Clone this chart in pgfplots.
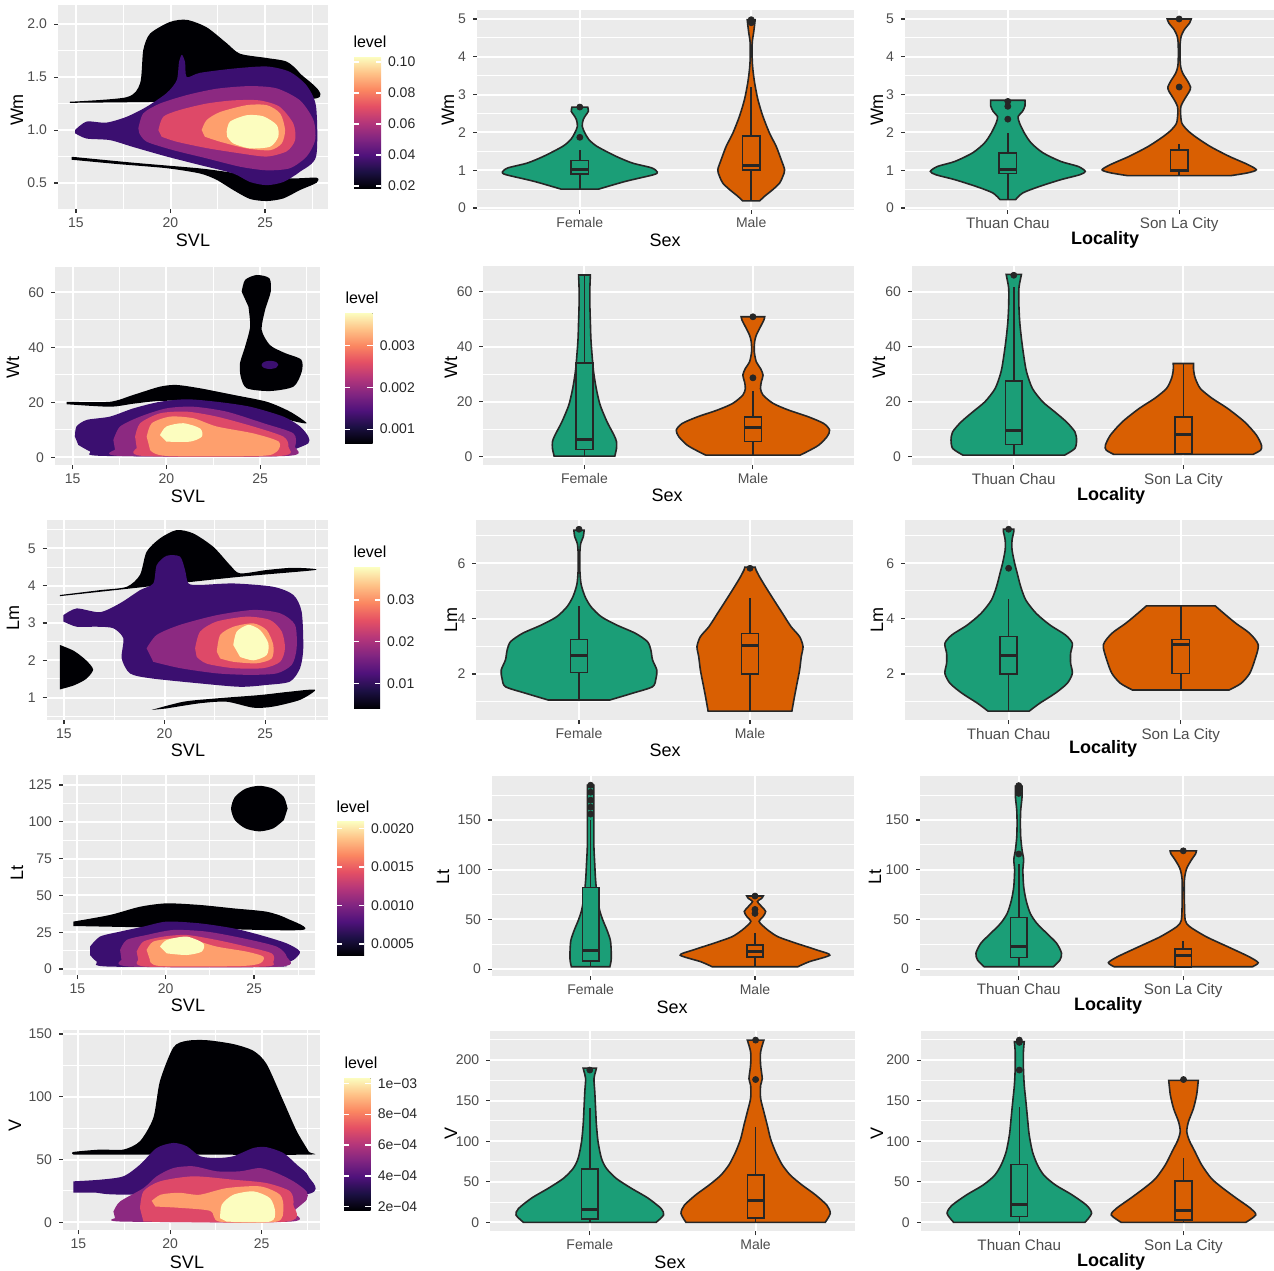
\documentclass[border=0pt]{standalone}
\usepackage{pgfplots}
\pgfplotsset{compat=1.18}
\usepackage{pgfplotstable}
\usepgfplotslibrary{fillbetween,statistics}
\usepackage{fontspec}
\setmainfont{Liberation Sans}

\definecolor{ggbg}{HTML}{EBEBEB}
\definecolor{tickc}{HTML}{333333}
\definecolor{tlab}{HTML}{4D4D4D}
\definecolor{vg}{HTML}{1B9E77}
\definecolor{vo}{HTML}{D95F02}
\definecolor{vl}{HTML}{262626}
\definecolor{lA}{HTML}{000004}
\definecolor{lB}{HTML}{3B0F70}
\definecolor{lC}{HTML}{8C2981}
\definecolor{lD}{HTML}{DE4968}
\definecolor{lE}{HTML}{FE9F6D}
\definecolor{lF}{HTML}{FCFDBF}
\definecolor{m1}{RGB}{28,16,68}
\definecolor{m2}{RGB}{79,18,123}
\definecolor{m3}{RGB}{129,37,129}
\definecolor{m4}{RGB}{181,54,122}
\definecolor{m5}{RGB}{229,80,100}
\definecolor{m6}{RGB}{251,135,97}
\definecolor{m7}{RGB}{254,194,135}
\pgfdeclareverticalshading{magmash}{100bp}{color(0bp)=(lA); color(25bp)=(lA); color(31.25bp)=(m1); color(37.5bp)=(m2); color(43.75bp)=(m3); color(50bp)=(m4); color(56.25bp)=(m5); color(62.5bp)=(m6); color(68.75bp)=(m7); color(75bp)=(lF); color(100bp)=(lF)}

\pgfplotsset{
 gg/.style={scale only axis, set layers, anchor=south west,
  axis background/.style={fill=ggbg},
  axis line style={draw=none},
  xmajorgrids, ymajorgrids, yminorgrids,
  major grid style={white, line width=1pt},
  minor grid style={white, line width=0.5pt},
  tick align=outside, major tick length=2pt, minor tick length=0pt,
  tick pos=left,
  major tick style={tickc, line width=0.55pt},
  tick label style={font=\fontsize{7}{8}\selectfont, text=tlab},
  /pgf/number format/assume math mode=true,
  scaled ticks=false},
 vio/.style={gg, xmin=0.4, xmax=2.6, xtick={1,2}, boxplot/draw direction=y, xticklabel style={yshift=1.5pt}},
 vioR/.style={vio, xticklabel style={font=\fontsize{7.6}{8.5}\selectfont}, xticklabels={Thuan Chau,Son La City}},
 dens/.style={gg, xtick={15,20,25}, minor xtick={17.5,22.5,27.5}, xminorgrids, xticklabel style={yshift=1pt}},
 cf/.style={fill=#1, draw=none, smooth, tension=0.45},
 cbar/.style={scale only axis, anchor=south west, xmin=0, xmax=1, xtick=\empty,
  axis line style={draw=none}, tick align=inside, yticklabel pos=right,
  major tick length=2.7pt, major tick style={white, line width=0.6pt},
  yticklabel style={font=\fontsize{7}{8}\selectfont, text=black!85},
  scaled y ticks=false, axis on top},
}

% ---------------- violin outlines (y, half width) ----------------
\pgfplotstableread{
y w
0.50 0.11
0.705 0.267
0.88 0.43
0.95 0.452
1.06 0.42
1.19 0.306
1.37 0.21
1.63 0.10
1.81 0.053
1.98 0.03
2.16 0.014
2.34 0.02
2.47 0.037
2.56 0.05
2.67 0.046
}\tWmF
\pgfplotstableread{
y w
0.19 0.05
0.31 0.078
0.49 0.127
0.66 0.166
0.84 0.185
1.01 0.195
1.28 0.175
1.63 0.146
1.98 0.107
2.43 0.068
2.87 0.039
3.31 0.02
3.66 0.01
3.92 0.006
4.37 0.006
4.63 0.014
4.85 0.02
4.98 0.023
}\tWmM
\pgfplotstableread{
y w
0.22 0.045
0.40 0.088
0.57 0.185
0.75 0.31
0.88 0.42
0.97 0.452
1.10 0.41
1.23 0.31
1.46 0.205
1.72 0.136
1.98 0.097
2.25 0.068
2.42 0.06
2.55 0.085
2.70 0.10
2.85 0.10
}\tWmT
\pgfplotstableread{
y w
0.855 0.30
0.93 0.40
1.01 0.45
1.15 0.40
1.37 0.29
1.63 0.18
1.90 0.09
2.07 0.045
2.25 0.015
2.51 0.008
2.69 0.01
2.87 0.03
3.09 0.06
3.20 0.066
3.35 0.05
3.57 0.02
3.75 0.008
4.02 0.005
4.37 0.006
4.55 0.012
4.72 0.03
4.89 0.06
5.00 0.07
}\tWmS
\pgfplotstableread{
y w
0.24 0.18
3.0 0.19
5.5 0.19
7.9 0.175
12.7 0.134
18.8 0.093
24.8 0.07
30.9 0.054
37 0.045
43 0.038
49 0.035
55.2 0.032
61.2 0.032
66.1 0.035
}\tWtF
\pgfplotstableread{
y w
0.6 0.28
1.8 0.32
4.2 0.39
7.3 0.44
9.7 0.455
12.1 0.42
14.5 0.33
17 0.21
19.4 0.12
22.4 0.06
24.8 0.045
27.3 0.05
29.7 0.06
32.1 0.045
34.5 0.02
38.2 0.008
41.8 0.01
44.2 0.02
47.3 0.045
49.7 0.065
50.9 0.07
}\tWtM
\pgfplotstableread{
y w
0.6 0.30
3.0 0.36
6.1 0.37
9.1 0.36
12.7 0.31
16.4 0.24
20 0.17
24.8 0.11
30.9 0.075
37 0.058
43 0.045
49 0.035
55.2 0.03
61.2 0.03
64.8 0.04
66.3 0.045
}\tWtT
\pgfplotstableread{
y w
0.85 0.41
2.4 0.455
4.2 0.46
7.9 0.43
12.7 0.36
17.6 0.26
21.2 0.17
24.8 0.10
28.5 0.07
31.5 0.06
33.9 0.06
}\tWtS
\pgfplotstableread{
y w
1.06 0.18
1.30 0.31
1.54 0.43
1.84 0.45
2.14 0.455
2.51 0.43
2.87 0.42
3.17 0.40
3.47 0.33
3.77 0.22
4.07 0.13
4.43 0.07
4.80 0.035
5.25 0.012
5.76 0.005
6.37 0.005
6.72 0.01
6.96 0.025
7.20 0.03
}\tLmF
\pgfplotstableread{
y w
0.66 0.245
1.18 0.26
1.66 0.275
2.14 0.29
2.63 0.30
2.99 0.31
3.35 0.29
3.71 0.24
4.19 0.19
4.67 0.14
5.16 0.09
5.52 0.055
5.76 0.035
5.86 0.03
}\tLmM
\pgfplotstableread{
y w
0.66 0.12
0.94 0.18
1.30 0.27
1.66 0.34
2.02 0.37
2.39 0.36
2.75 0.36
3.11 0.37
3.41 0.33
3.77 0.24
4.19 0.16
4.67 0.10
5.16 0.07
5.64 0.05
6.0 0.035
6.48 0.02
6.84 0.02
7.14 0.03
7.23 0.03
}\tLmT
\pgfplotstableread{
y w
1.42 0.28
1.66 0.35
2.02 0.40
2.51 0.43
3.05 0.45
3.47 0.40
3.83 0.32
4.19 0.25
4.46 0.20
}\tLmS
\pgfplotstableread{
y w
2.3 0.117
9 0.125
19 0.125
29 0.12
39 0.10
49 0.075
59 0.055
73 0.04
90 0.03
106 0.025
123 0.02
143 0.02
167 0.02
185 0.02
}\tLtF
\pgfplotstableread{
y w
2.3 0.26
7.4 0.33
14 0.455
19 0.38
26 0.25
32.5 0.14
39 0.08
44 0.045
48 0.025
53 0.05
58 0.065
63 0.04
68 0.015
71 0.04
73.5 0.05
}\tLtM
\pgfplotstableread{
y w
2.3 0.21
9 0.25
16 0.26
26 0.23
36 0.17
46 0.11
56 0.07
69 0.045
83 0.03
100 0.025
110 0.03
120 0.02
133 0.012
147 0.01
160 0.012
173 0.02
184 0.02
}\tLtT
\pgfplotstableread{
y w
2.3 0.42
6.4 0.455
12.4 0.40
22.5 0.27
32.5 0.14
42.6 0.04
49 0.012
66 0.007
89.6 0.007
101 0.02
110 0.05
116 0.075
119 0.08
}\tLtS
\pgfplotstableread{
y w
0 0.40
9 0.445
17 0.43
30 0.35
42 0.25
54 0.16
66.5 0.10
79 0.07
99 0.05
120 0.04
140 0.035
161 0.03
177 0.025
186 0.035
190 0.04
}\tVF
\pgfplotstableread{
y w
0 0.42
11 0.45
21 0.43
34 0.36
46 0.28
58 0.21
71 0.16
87 0.12
103 0.09
120 0.07
136 0.05
153 0.03
169 0.03
177 0.04
194 0.03
210 0.03
224.6 0.05
}\tVM
\pgfplotstableread{
y w
0 0.40
11 0.44
21 0.41
34 0.32
46 0.22
58 0.15
71 0.11
87 0.08
108 0.06
128 0.05
149 0.04
169 0.03
190 0.025
210 0.025
222.6 0.03
}\tVT
\pgfplotstableread{
y w
0 0.38
9 0.44
17 0.41
30 0.32
42 0.24
54 0.17
71 0.11
87 0.07
101 0.035
112 0.02
124 0.03
140 0.06
157 0.08
175 0.09
}\tVS

\newcommand\vio[4]{%
 \addplot[draw=none, smooth, tension=0.45, name path=R#4] table[x expr={#1+\thisrow{w}}, y=y] {#3};
 \addplot[draw=none, smooth, tension=0.45, name path=L#4] table[x expr={#1-\thisrow{w}}, y=y] {#3};
 \addplot[fill=#2, draw=vl, line width=0.8pt] fill between[of=R#4 and L#4, reverse=true];
}
\newcommand\bx[7]{%
 \addplot[fill=#2, draw=vl, line width=0.8pt, boxplot prepared={draw position=#1, lower whisker=#3, lower quartile=#4, median=#5, upper quartile=#6, upper whisker=#7, box extend=0.1, whisker extend=0, every median/.style={line width=1.5pt}}] coordinates {};
}
\newcommand\outl[1]{\addplot[only marks, mark=*, mark size=1.5pt, color=vl] coordinates {#1};}
\newcommand\cbar[6]{%
 \begin{axis}[cbar, at={(#1,#2)}, width=#3, height=#4, ymin=#5, ymax=#6, cbticks]
 \fill[shading=magmash] (axis cs:0,#5) rectangle (axis cs:1,#6);
 \end{axis}}

\begin{document}
\begin{tikzpicture}

% ================= ROW 1 =================
\begin{axis}[dens, at={(29pt,-104.5pt)}, width=135pt, height=102pt,
  xmin=14.05, xmax=28.33, ymin=0.255, ymax=2.18,
  ytick={0.5,1,1.5,2}, yticklabels={0.5,1.0,1.5,2.0}, minor ytick={0.75,1.25,1.75}]
\addplot[cf=lA] coordinates {(14.68,1.267) (17.68,1.31) (18.39,1.44) (18.56,1.755) (18.92,1.91) (19.97,2.02) (20.86,2.04) (21.91,1.97) (22.97,1.82) (23.68,1.72) (25.09,1.68) (26.15,1.645) (26.85,1.535) (27.73,1.30) (21,1.27) (14.68,1.257)};
\addplot[cf=lA] coordinates {(14.77,0.748) (18.03,0.692) (21.56,0.638) (23.32,0.597) (25.09,0.56) (26.5,0.544) (27.73,0.55) (27.73,0.503) (26.85,0.434) (25.97,0.355) (25.09,0.33) (24.2,0.35) (23.32,0.434) (22.44,0.53) (21.56,0.59) (19.8,0.64) (17.15,0.68) (14.77,0.72)};
\addplot[cf=lB] coordinates {(14.95,1.0) (15.56,1.08) (16.6,1.07) (17.68,1.125) (18.74,1.22) (19.8,1.35) (20.33,1.47) (20.45,1.64) (20.6,1.71) (20.77,1.64) (20.86,1.50) (21.56,1.54) (23.32,1.58) (25.09,1.60) (26.3,1.55) (27.2,1.42) (27.7,1.22) (27.7,0.75) (26.85,0.607) (25.97,0.51) (25.09,0.48) (24.2,0.51) (23.32,0.59) (21.56,0.67) (19.8,0.75) (18.03,0.84) (16.8,0.905) (15.56,0.92) (14.95,0.97)};
\addplot[cf=lC] coordinates {(18.3,1.016) (18.56,1.157) (19.44,1.25) (20.86,1.33) (22.44,1.39) (24.2,1.415) (25.62,1.393) (26.85,1.28) (27.56,1.094) (27.65,0.906) (27.2,0.75) (26.32,0.64) (25.09,0.62) (23.68,0.654) (21.91,0.733) (20.15,0.81) (18.74,0.89) (18.35,0.97)};
\addplot[cf=lD] coordinates {(19.36,1.0) (19.62,1.126) (20.5,1.19) (21.91,1.25) (23.32,1.28) (24.7,1.28) (25.77,1.22) (26.5,1.06) (26.59,0.906) (26.15,0.80) (25.09,0.75) (23.68,0.78) (21.91,0.83) (20.33,0.89) (19.53,0.937)};
\addplot[cf=lE] coordinates {(21.65,1.0) (21.91,1.094) (22.62,1.17) (24.03,1.235) (25.09,1.235) (25.8,1.157) (26.06,1.0) (25.88,0.874) (25.27,0.81) (24.03,0.827) (22.62,0.89) (21.82,0.937)};
\addplot[cf=lF] coordinates {(22.97,0.984) (23.15,1.08) (24.03,1.14) (24.9,1.13) (25.62,1.047) (25.7,0.937) (25.27,0.843) (24.2,0.827) (23.32,0.874) (23.0,0.937)};
\end{axis}
\pgfplotsset{cbticks/.style={ytick={0.02,0.04,0.06,0.08,0.1}, yticklabels={0.02,0.04,0.06,0.08,0.10}}}
\cbar{177pt}{-94pt}{13.5pt}{65.5pt}{0.0187}{0.1032}

\begin{axis}[vio, at={(238.5pt,-104.75pt)}, width=188.5pt, height=99.8pt,
  ymin=-0.04, ymax=5.24, ytick={0,1,2,3,4,5}, minor ytick={0.5,1.5,2.5,3.5,4.5},
  xticklabels={Female,Male}]
\vio{1}{vg}{\tWmF}{a}
\vio{2}{vo}{\tWmM}{b}
\bx{1}{vg}{0.50}{0.90}{1.03}{1.26}{1.54}
\bx{2}{vo}{0.19}{1.0}{1.12}{1.90}{3.2}
\outl{(1,1.87) (1,2.67)}
\outl{(2,4.9) (2,4.98)}
\end{axis}

\begin{axis}[vioR, at={(452.5pt,-104.75pt)}, width=188.5pt, height=99.8pt,
  ymin=-0.04, ymax=5.24, ytick={0,1,2,3,4,5}, minor ytick={0.5,1.5,2.5,3.5,4.5}]
\vio{1}{vg}{\tWmT}{c}
\vio{2}{vo}{\tWmS}{d}
\bx{1}{vg}{0.22}{0.91}{1.01}{1.46}{1.98}
\bx{2}{vo}{0.88}{0.97}{1.0}{1.54}{1.70}
\outl{(1,2.35) (1,2.69) (1,2.82)}
\outl{(2,3.2) (2,5.0)}
\end{axis}

% ================= ROW 2 =================
\begin{axis}[dens, at={(27.5pt,-232.5pt)}, width=132.5pt, height=99pt,
  xmin=14.055, xmax=28.2, ymin=-2.8, ymax=69.2,
  ytick={0,20,40,60}, minor ytick={10,30,50}]
\addplot[cf=lA] coordinates {(24.02,60.2) (24.2,64.5) (24.82,66.3) (25.5,65.1) (25.57,60.2) (25.27,53.6) (25.09,46.3) (25.53,40.8) (26.3,38) (27.2,35.5) (27.22,31) (26.78,25.7) (25.53,24.1) (24.29,25.1) (23.97,29.3) (23.93,34.2) (24.2,40.2) (24.47,47.5) (24.38,54.8)};
\addplot[cf=lB] coordinates {(25.98,33.6) (25.85,34.7) (25.53,35.1) (25.21,34.7) (25.08,33.6) (25.21,32.5) (25.53,32.1) (25.85,32.5)};
\addplot[cf=lA] coordinates {(14.68,20.2) (16.99,20.2) (18.24,22.7) (19.66,25.7) (20.55,26.3) (21.8,25.1) (23.58,22.7) (25.36,20.2) (26.6,16.6) (27.49,12.4) (26.6,13.5) (25.36,16.5) (23.58,19) (21.8,20.5) (19.66,20.5) (18.24,19.5) (16.99,18.4) (14.68,19.3)};
\addplot[cf=lB] coordinates {(15.12,7.5) (15.2,11.2) (15.75,13.6) (16.99,14.8) (18.24,17.8) (19.66,20.2) (21.09,21.1) (22.69,20.2) (24.47,18.4) (26.25,14.8) (27.14,11.2) (27.58,7.5) (27.58,5.1) (26.78,2.7) (26.07,0.5) (16.64,0.5) (15.93,2.1) (15.3,4.5)};
\addplot[cf=lC] coordinates {(17.17,6.3) (17.53,11.2) (18.6,14.8) (20.0,17.8) (21.44,18.4) (23.22,16.6) (25.18,12.4) (26.78,8.7) (26.87,3.9) (26.42,0.5) (17.53,0.5) (17.26,2.7)};
\addplot[cf=lD] coordinates {(18.33,7.5) (18.6,12.4) (19.66,16.0) (21.09,16.6) (22.69,14.8) (24.64,11.2) (26.25,7.5) (26.51,3.9) (26.07,0.5) (18.77,0.5) (18.42,3.3)};
\addplot[cf=lE] coordinates {(18.95,7.5) (19.22,12.4) (20.2,14.8) (21.44,14.2) (22.69,11.2) (24.64,8.7) (26.0,5.7) (25.9,2.1) (25.0,0.5) (20.0,0.5) (19.13,2.7)};
\addplot[cf=lF] coordinates {(19.66,8.1) (20.0,11.2) (20.9,12.4) (21.8,10.5) (21.89,7.5) (21.26,5.7) (20.0,5.7)};
\end{axis}
\pgfplotsset{cbticks/.style={ytick={0.001,0.002,0.003}, yticklabels={0.001,0.002,0.003}}}
\cbar{172.5pt}{-221.5pt}{13.85pt}{65pt}{0.00067}{0.00377}

\begin{axis}[vio, at={(241.7pt,-232.5pt)}, width=185.3pt, height=99.7pt,
  ymin=-3.0, ymax=69.5, ytick={0,20,40,60}, minor ytick={10,30,50},
  xticklabels={Female,Male}]
\vio{1}{vg}{\tWtF}{e}
\vio{2}{vo}{\tWtM}{f}
\bx{1}{vg}{0.24}{2.7}{6.4}{34}{66}
\bx{2}{vo}{0.6}{5.5}{10.5}{14.5}{23.9}
\outl{(2,28.7) (2,50.9)}
\end{axis}

\begin{axis}[vioR, at={(456pt,-232.5pt)}, width=186.6pt, height=99.7pt,
  ymin=-3.0, ymax=69.5, ytick={0,20,40,60}, minor ytick={10,30,50}]
\vio{1}{vg}{\tWtT}{g}
\vio{2}{vo}{\tWtS}{h}
\bx{1}{vg}{0.6}{4.5}{9.7}{27.5}{61.8}
\bx{2}{vo}{0.85}{1.2}{8.2}{14.5}{33.9}
\outl{(1,66)}
\end{axis}

% ================= ROW 3 =================
\begin{axis}[dens, at={(23.35pt,-360pt)}, width=140.65pt, height=100pt,
  xmin=14.14, xmax=28.13, ymin=0.40, ymax=5.76,
  ytick={1,2,3,4,5}, minor ytick={0.5,1.5,2.5,3.5,4.5,5.5}]
\addplot[cf=lA] coordinates {(14.8,3.75) (16.79,3.88) (18.12,3.97) (18.78,4.29) (19.11,4.91) (19.78,5.27) (20.6,5.49) (21.43,5.40) (22.43,5.04) (23.26,4.55) (23.76,4.33) (25.08,4.42) (26.41,4.48) (27.49,4.42) (23.4,4.22) (14.8,3.72)};
\addplot[cf=lA] coordinates {(14.8,2.41) (15.5,2.25) (16.1,2.0) (16.45,1.75) (16.1,1.5) (15.5,1.33) (14.8,1.22)};
\addplot[cf=lA] coordinates {(19.36,0.67) (20.94,0.89) (22.6,0.98) (24.75,1.07) (26.24,1.16) (27.49,1.21) (26.74,0.94) (25.41,0.76) (24.42,0.73) (23.09,0.89) (21.77,0.85) (20.1,0.71)};
\addplot[cf=lB] coordinates {(14.97,3.21) (15.63,3.39) (16.79,3.29) (17.79,3.53) (18.78,3.88) (19.44,4.06) (19.61,4.55) (20.1,4.80) (20.77,4.78) (21.02,4.42) (21.19,4.06) (21.77,4.02) (23.42,4.06) (25.41,3.97) (26.41,3.75) (26.82,3.30) (26.9,2.32) (26.74,1.79) (26.24,1.43) (25.08,1.34) (23.76,1.29) (21.77,1.38) (19.28,1.52) (18.28,1.65) (17.87,2.05) (17.95,2.59) (17.45,2.86) (16.63,2.90) (15.63,2.90) (14.97,3.04)};
\addplot[cf=lC] coordinates {(19.11,2.32) (19.61,2.68) (20.77,2.95) (22.6,3.21) (24.42,3.35) (25.75,3.26) (26.49,2.95) (26.57,2.32) (26.33,1.88) (25.58,1.65) (24.25,1.61) (22.6,1.65) (20.77,1.79) (19.44,1.96)};
\addplot[cf=lD] coordinates {(21.52,2.32) (21.77,2.77) (22.6,3.04) (24.09,3.17) (25.25,3.08) (25.83,2.77) (25.99,2.32) (25.75,1.96) (24.92,1.79) (23.42,1.79) (22.1,1.91) (21.6,2.09)};
\addplot[cf=lE] coordinates {(22.6,2.23) (22.77,2.68) (23.43,2.9) (24.42,2.99) (25.08,2.81) (25.41,2.41) (25.33,2.05) (24.58,1.92) (23.42,1.96) (22.77,2.05)};
\addplot[cf=lF] coordinates {(23.42,2.41) (23.59,2.77) (24.17,2.95) (24.75,2.81) (25.16,2.46) (25.08,2.14) (24.42,2.0) (23.76,2.09)};
\end{axis}
\pgfplotsset{cbticks/.style={ytick={0.01,0.02,0.03}, yticklabels={0.01,0.02,0.03}}}
\cbar{177pt}{-354.15pt}{13pt}{70.3pt}{0.0040}{0.03775}

\begin{axis}[vio, at={(238.2pt,-360.1pt)}, width=188.1pt, height=100.05pt,
  ymin=0.33, ymax=7.56, ytick={2,4,6}, minor ytick={1,3,5,7},
  xticklabels={Female,Male}]
\vio{1}{vg}{\tLmF}{i}
\vio{2}{vo}{\tLmM}{j}
\bx{1}{vg}{1.06}{2.06}{2.66}{3.25}{4.46}
\bx{2}{vo}{0.66}{2.0}{3.02}{3.47}{4.73}
\outl{(1,7.23)}
\outl{(2,5.82)}
\end{axis}

\begin{axis}[vioR, at={(452.65pt,-360.1pt)}, width=189.4pt, height=100.05pt,
  ymin=0.33, ymax=7.56, ytick={2,4,6}, minor ytick={1,3,5,7}]
\vio{1}{vg}{\tLmT}{k}
\vio{2}{vo}{\tLmS}{l}
\bx{1}{vg}{0.66}{2.0}{2.66}{3.35}{4.70}
\bx{2}{vo}{1.42}{2.02}{3.05}{3.25}{4.46}
\outl{(1,5.82) (1,7.23)}
\end{axis}

% ================= ROW 4 =================
\begin{axis}[dens, at={(31.5pt,-487.5pt)}, width=126pt, height=100pt,
  xmin=14.19, xmax=28.45, ymin=-4.1, ymax=131.8,
  ytick={0,25,50,75,100,125}, minor ytick={12.5,37.5,62.5,87.5,112.5}]
\addplot[cf=lA] coordinates {(26.9,109) (26.69,116.75) (26.1,122.4) (25.3,124.5) (24.5,122.4) (23.91,116.75) (23.7,109) (23.91,101.25) (24.5,95.6) (25.3,93.5) (26.1,95.6) (26.69,101.25)};
\addplot[cf=lA] coordinates {(14.77,32.2) (16.85,36.7) (18.55,42.3) (20.06,44.6) (21.94,43.5) (23.83,41.2) (25.72,38.9) (26.85,34.4) (27.7,26.5) (21,27.8) (14.77,29.2)};
\addplot[cf=lB] coordinates {(15.72,15.2) (16.28,22.0) (17.42,25.4) (18.74,28.8) (20.06,32.2) (21.94,31.0) (23.83,27.6) (25.34,23.1) (26.85,17.4) (27.6,11.8) (27.23,6.1) (26.47,2.7) (26.3,1.6) (16.85,1.6) (16.1,5.0) (15.72,9.5)};
\addplot[cf=lC] coordinates {(17.42,12.9) (17.79,19.7) (18.92,23.1) (20.43,26.5) (22.32,25.4) (24.4,20.8) (26.28,15.2) (26.85,8.4) (26.47,1.6) (18.0,1.6) (17.5,6.1)};
\addplot[cf=lD] coordinates {(18.36,11.8) (18.74,18.6) (19.87,22.0) (21.19,23.1) (22.89,19.7) (24.58,15.2) (26.0,10.6) (26.09,5.0) (25.53,1.6) (18.92,1.6) (18.45,6.1)};
\addplot[cf=lE] coordinates {(18.92,12.9) (19.3,18.6) (20.43,20.8) (21.57,19.7) (22.89,15.2) (24.58,11.8) (25.53,8.4) (25.34,3.8) (24.2,2.0) (19.68,2.0) (19.11,6.1)};
\addplot[cf=lF] coordinates {(19.68,15.2) (20.06,19.7) (21.19,22.0) (22.13,17.4) (22.04,11.8) (21.19,9.5) (20.06,10.6)};
\end{axis}
\pgfplotsset{cbticks/.style={ytick={0.0005,0.001,0.0015,0.002}, yticklabels={0.0005,0.0010,0.0015,0.0020}}}
\cbar{168.5pt}{-477.5pt}{13.5pt}{66.65pt}{0.000358}{0.002086}

\begin{axis}[vio, at={(246pt,-487.9pt)}, width=180.8pt, height=99.8pt,
  ymin=-6.8, ymax=194.1, ytick={0,50,100,150}, minor ytick={25,75,125,175},
  xticklabels={Female,Male}]
\vio{1}{vg}{\tLtF}{m}
\vio{2}{vo}{\tLtM}{n}
\bx{1}{vg}{2.3}{8.4}{19}{82}{150}
\bx{2}{vo}{2.3}{12.4}{17.4}{24}{36}
\outl{(1,156) (1,163) (1,170) (1,178) (1,185)}
\outl{(2,56) (2,60) (2,73.5)}
\end{axis}

\begin{axis}[vioR, at={(460pt,-487.9pt)}, width=181pt, height=99.8pt,
  ymin=-6.8, ymax=194.1, ytick={0,50,100,150}, minor ytick={25,75,125,175}]
\vio{1}{vg}{\tLtT}{o}
\vio{2}{vo}{\tLtS}{p}
\bx{1}{vg}{2.3}{11.7}{22.5}{51.7}{106}
\bx{2}{vo}{2.3}{2.3}{14}{20}{28.5}
\outl{(1,115.8) (1,176.8) (1,180.9) (1,184.6)}
\outl{(2,119)}
\end{axis}

% ================= ROW 5 =================
\begin{axis}[dens, at={(31.5pt,-615pt)}, width=128.5pt, height=100pt,
  xmin=14.16, xmax=28.18, ymin=-6.2, ymax=153.2,
  ytick={0,50,100,150}, minor ytick={25,75,125}]
\addplot[cf=lA] coordinates {(14.73,53.9) (14.73,56.0) (16.18,57.9) (17.45,57.9) (18.36,64.6) (19.09,83.3) (19.45,112.6) (20.18,139.3) (20.91,144.6) (22.0,145.1) (23.45,142.0) (24.55,136.6) (25.27,126.0) (26.18,96.6) (26.91,72.6) (27.55,56.6) (27.55,53.9) (21,53.9)};
\addplot[cf=lB] coordinates {(14.73,32.6) (16.18,33.9) (17.45,36.6) (18.36,45.9) (19.27,59.2) (20.18,63.2) (20.91,60.6) (21.64,52.6) (22.55,51.2) (23.45,52.6) (24.55,59.2) (25.27,59.8) (26.18,55.2) (26.91,45.9) (27.55,36.6) (27.3,22) (17.5,22) (16,23.5) (14.73,23.7)};
\addplot[cf=lC] coordinates {(16.91,8.5) (17.27,16.5) (18.55,27.2) (19.27,36.6) (20.18,43.2) (21.27,44.6) (22.55,40.6) (23.82,40.6) (24.91,43.2) (25.82,39.2) (26.73,32.6) (27.45,24.6) (27.45,17.9) (26.73,8.5) (26.55,0.5) (17.45,0.5) (17.0,3.2)};
\addplot[cf=lD] coordinates {(18.36,11.2) (18.55,24.6) (19.45,32.6) (21.27,36.6) (23.45,33.9) (25.27,31.2) (26.55,24.6) (26.73,13.9) (26.36,0.5) (18.55,0.5)};
\addplot[cf=lE] coordinates {(19.0,17) (19.5,22) (20.5,23.5) (21.6,21.9) (23.09,27.2) (24.91,28.6) (26.0,21.9) (26.18,11.2) (25.82,0.5) (22.7,0.5) (22.2,9) (20.5,11.5) (19.2,12.5)};
\addplot[cf=lF] coordinates {(22.73,3.2) (22.82,13.9) (23.45,21.9) (24.55,24.6) (25.45,19.2) (25.73,8.5) (25.45,0.5) (23.09,0.5)};
\end{axis}
\pgfplotsset{cbticks/.style={ytick={0.0002,0.0004,0.0006,0.0008,0.001}, yticklabels={2e−04,4e−04,6e−04,8e−04,1e−03}}}
\cbar{172pt}{-605pt}{13.35pt}{66pt}{0.000179}{0.001034}

\begin{axis}[vio, at={(245.15pt,-615.7pt)}, width=182.4pt, height=100.2pt,
  ymin=-11.2, ymax=235.8, ytick={0,50,100,150,200}, minor ytick={25,75,125,175,225},
  xticklabels={Female,Male}]
\vio{1}{vg}{\tVF}{q}
\vio{2}{vo}{\tVM}{r}
\bx{1}{vg}{0}{4.1}{16.4}{65.7}{141}
\bx{2}{vo}{0}{5.7}{26.3}{58.3}{118}
\outl{(1,187.7)}
\outl{(2,176) (2,224.6)}
\end{axis}

\begin{axis}[vioR, at={(460.4pt,-615.7pt)}, width=180.6pt, height=100.2pt,
  ymin=-11.2, ymax=235.8, ytick={0,50,100,150,200}, minor ytick={25,75,125,175,225}]
\vio{1}{vg}{\tVT}{s}
\vio{2}{vo}{\tVS}{t}
\bx{1}{vg}{0}{7}{21.4}{71.5}{142.5}
\bx{2}{vo}{0}{2.9}{15.2}{50.9}{79.7}
\outl{(1,187.7) (1,221.8) (1,224.6)}
\outl{(2,176)}
\end{axis}

% ================= labels =================
\tikzset{al/.style={font=\fontsize{9}{10}\selectfont}, alb/.style={font=\fontsize{9}{10}\selectfont\bfseries},
  lv/.style={font=\fontsize{8}{9}\selectfont}}
\node[al] at (96.5pt,-120pt) {SVL};
\node[al] at (332.5pt,-120pt) {Sex};
\node[alb] at (552.5pt,-120pt) {Locality};
\node[al] at (94pt,-248pt) {SVL};
\node[al] at (333.5pt,-247.5pt) {Sex};
\node[alb] at (555.5pt,-248pt) {Locality};
\node[al] at (94pt,-375pt) {SVL};
\node[al] at (332.5pt,-375pt) {Sex};
\node[alb] at (551.5pt,-374.5pt) {Locality};
\node[al] at (94pt,-502.5pt) {SVL};
\node[al] at (336pt,-503.5pt) {Sex};
\node[alb] at (554pt,-503pt) {Locality};
\node[al] at (93.5pt,-631pt) {SVL};
\node[al] at (335pt,-631pt) {Sex};
\node[alb] at (555.5pt,-631pt) {Locality};

\node[al,rotate=90] at (8.5pt,-55pt) {Wm};
\node[al,rotate=90] at (224pt,-55pt) {Wm};
\node[al,rotate=90] at (438.5pt,-55pt) {Wm};
\node[al,rotate=90] at (6.5pt,-183.5pt) {Wt};
\node[al,rotate=90] at (225.5pt,-183.5pt) {Wt};
\node[al,rotate=90] at (439.5pt,-183.5pt) {Wt};
\node[al,rotate=90] at (6.5pt,-309pt) {Lm};
\node[al,rotate=90] at (225.5pt,-310pt) {Lm};
\node[al,rotate=90] at (438.5pt,-310pt) {Lm};
\node[al,rotate=90] at (8.5pt,-436.5pt) {Lt};
\node[al,rotate=90] at (221.5pt,-438.5pt) {Lt};
\node[al,rotate=90] at (437.5pt,-438.5pt) {Lt};
\node[al,rotate=90] at (7.5pt,-562.5pt) {V};
\node[al,rotate=90] at (225.5pt,-566.5pt) {V};
\node[al,rotate=90] at (438.5pt,-566.5pt) {V};

\node[lv] at (185pt,-20.85pt) {level};
\node[lv] at (181pt,-148.85pt) {level};
\node[lv] at (185pt,-275.85pt) {level};
\node[lv] at (176.5pt,-403.35pt) {level};
\node[lv] at (180.5pt,-531.35pt) {level};

\pgfresetboundingbox
\useasboundingbox (0,0) rectangle (637pt,-635pt);
\end{tikzpicture}
\end{document}
